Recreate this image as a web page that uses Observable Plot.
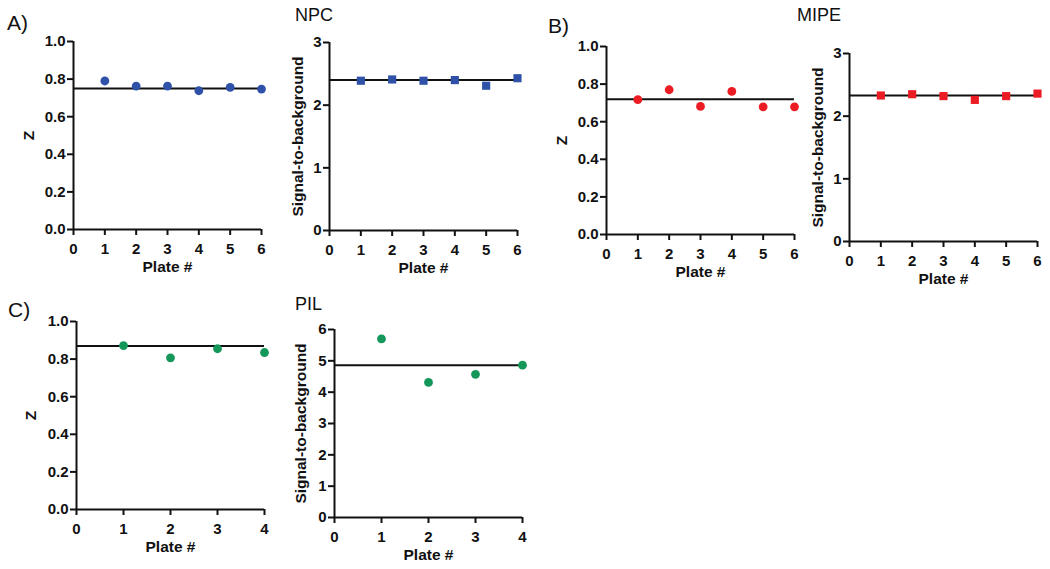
<!DOCTYPE html>
<html>
<head>
<meta charset="utf-8">
<script src="https://cdn.jsdelivr.net/npm/d3@7"></script>
<script src="https://cdn.jsdelivr.net/npm/@observablehq/plot@0.6"></script>
<style>
  html, body { margin: 0; padding: 0; background: #ffffff; }
  #root { position: relative; width: 1050px; height: 569px; overflow: hidden; background: #ffffff; font-family: 'Liberation Sans', Arial, sans-serif; }
  .panel { position: absolute; }
  .lbl { position: absolute; font-family: 'Liberation Sans', Arial, sans-serif; font-weight: normal; color: #111; white-space: nowrap; }
</style>
</head>
<body>
<div id="root"></div>
<script>
// ---- data ----
const plates6 = [1, 2, 3, 4, 5, 6];
const plates4 = [1, 2, 3, 4];

const npcZ = [0.79, 0.763, 0.763, 0.738, 0.756, 0.747];
const npcZLine = 0.75;
const npcSB = [2.39, 2.41, 2.39, 2.40, 2.31, 2.43];
const npcSBLine = 2.40;

const mipeZ = [0.717, 0.77, 0.681, 0.761, 0.679, 0.679];
const mipeZLine = 0.72;
const mipeSB = [2.33, 2.35, 2.32, 2.26, 2.32, 2.36];
const mipeSBLine = 2.33;

const pilZ = [0.872, 0.807, 0.855, 0.835];
const pilZLine = 0.87;
const pilSB = [5.70, 4.31, 4.57, 4.86];
const pilSBLine = 4.86;

const zTicks = [0, 0.2, 0.4, 0.6, 0.8, 1.0];
const sbTicks3 = [0, 1, 2, 3];
const sbTicks6 = [0, 1, 2, 3, 4, 5, 6];
const xTicks6 = [0, 1, 2, 3, 4, 5, 6];
const xTicks4 = [0, 1, 2, 3, 4];

const titles = [
  {text: "A)", left: 7, cy: 22, size: 21},
  {text: "NPC", left: 295, cy: 15, size: 18},
  {text: "B)", left: 548, cy: 25, size: 21},
  {text: "MIPE", left: 797, cy: 15, size: 18},
  {text: "C)", left: 8, cy: 309, size: 21},
  {text: "PIL", left: 295, cy: 304, size: 18}
];

const blue = "#2f52a8";
const red = "#ec1c24";
const green = "#14985a";

// ---- layout ----
const ML = 70, MT = 10, MR = 12, MB = 54, PW = 188, PH = 188;

const panels = [
  {plates: plates6, vals: npcZ, line: npcZLine, ymax: 1, yticks: zTicks, xticks: xTicks6, fmt: d3.format(".1f"), label: "Z", labelDx: -44, color: blue, symbol: "circle", ax: 73, top: 41},
  {plates: plates6, vals: npcSB, line: npcSBLine, ymax: 3, yticks: sbTicks3, xticks: xTicks6, fmt: d3.format("d"), label: "Signal-to-background", labelDx: -31, color: blue, symbol: "square", ax: 329, top: 42},
  {plates: plates6, vals: mipeZ, line: mipeZLine, ymax: 1, yticks: zTicks, xticks: xTicks6, fmt: d3.format(".1f"), label: "Z", labelDx: -44, color: red, symbol: "circle", ax: 606, top: 46},
  {plates: plates6, vals: mipeSB, line: mipeSBLine, ymax: 3, yticks: sbTicks3, xticks: xTicks6, fmt: d3.format("d"), label: "Signal-to-background", labelDx: -31, color: red, symbol: "square", ax: 849, top: 53},
  {plates: plates4, vals: pilZ, line: pilZLine, ymax: 1, yticks: zTicks, xticks: xTicks4, fmt: d3.format(".1f"), label: "Z", labelDx: -45, color: green, symbol: "circle", ax: 76, top: 321},
  {plates: plates4, vals: pilSB, line: pilSBLine, ymax: 6, yticks: sbTicks6, xticks: xTicks4, fmt: d3.format("d"), label: "Signal-to-background", labelDx: -33, color: green, symbol: "circle", ax: 334, top: 329}
];

const root = document.getElementById("root");

for (const p of panels) {
  const data = p.plates.map((x, i) => ({x, y: p.vals[i]}));
  const nmax = p.plates.length;
  const chart = Plot.plot({
    width: ML + PW + MR,
    height: MT + PH + MB,
    marginLeft: ML, marginTop: MT, marginRight: MR, marginBottom: MB,
    style: {fontFamily: "'Liberation Sans', Arial, sans-serif", fontSize: "15px", fontWeight: "bold", color: "#111", background: "transparent", overflow: "visible"},
    x: {domain: [0, nmax]},
    y: {domain: [0, p.ymax]},
    marks: [
      Plot.ruleY([p.line], {stroke: "#111", strokeWidth: 2}),
      Plot.dot(data, {x: "x", y: "y", r: p.symbol === "square" ? 4.6 : 4.4, fill: p.color, symbol: p.symbol}),
      Plot.ruleX([0], {stroke: "#111", strokeWidth: 2}),
      Plot.ruleY([0], {stroke: "#111", strokeWidth: 2}),
      Plot.axisX({ticks: p.xticks, tickSize: 6, tickPadding: 8, strokeWidth: 2, stroke: "#111", label: null, tickFormat: d3.format("d")}),
      Plot.axisY({ticks: p.yticks, tickSize: 6, tickPadding: 2, strokeWidth: 2, stroke: "#111", label: null, tickFormat: p.fmt}),
      Plot.text(["Plate #"], {frameAnchor: "bottom", dy: 42, textAnchor: "middle", fontSize: 15.5, fontWeight: "bold", fill: "#111"}),
      Plot.text([p.label], {frameAnchor: "left", dx: p.labelDx, textAnchor: "middle", rotate: -90, fontSize: 15.5, fontWeight: "bold", fill: "#111"})
    ]
  });
  chart.classList.add("panel");
  chart.style.left = (p.ax - ML) + "px";
  chart.style.top = (p.top - MT) + "px";
  root.appendChild(chart);
}

for (const t of titles) {
  const d = document.createElement("div");
  d.className = "lbl";
  d.textContent = t.text;
  d.style.left = t.left + "px";
  d.style.top = (t.cy - t.size / 2) + "px";
  d.style.fontSize = t.size + "px";
  d.style.lineHeight = t.size + "px";
  root.appendChild(d);
}
</script>
</body>
</html>
